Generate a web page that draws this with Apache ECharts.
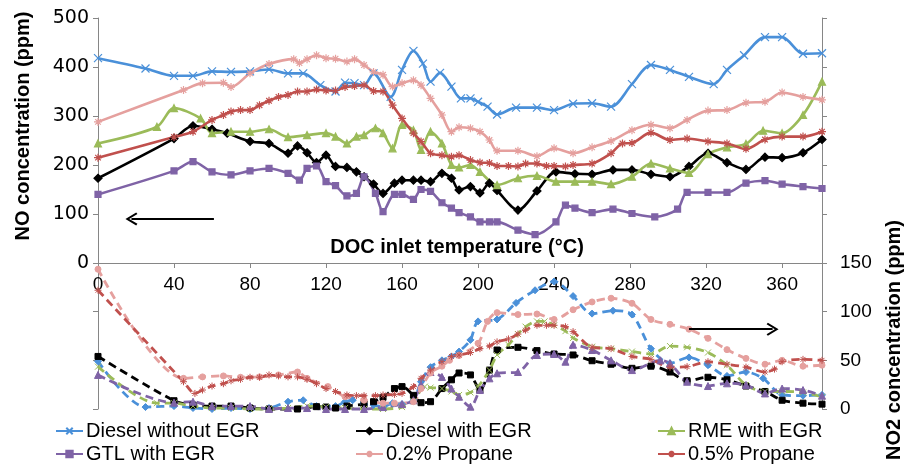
<!DOCTYPE html>
<html>
<head>
<meta charset="utf-8">
<script src="https://cdn.jsdelivr.net/npm/echarts@6/dist/echarts.min.js"></script>
<style>html,body{margin:0;padding:0;background:#fff;}#c{width:904px;height:472px;}</style>
</head>
<body>
<div id="c"></div>
<script>
// ---- Data: [temperature (°C), concentration (ppm)] ----
const seriesNames = ['Diesel without EGR','Diesel with EGR','RME with EGR','GTL with EGR','0.2% Propane','0.5% Propane'];

// NO concentration (left axis)
const noDieselNoEgr = [[0,418],[25,397],[40,382],[50,382],[60,391],[70,390],[80,391],[90,395],[100,387],[108,387],[117,363],[125,350],[130,368],[135,367],[140,363],[145,387],[154,339],[160,394],[166,433],[171,407],[175,370],[180,388],[186,360],[191,336],[196,336],[200,329],[205,319],[210,303],[220,317],[231,317],[240,312],[250,325],[260,326],[270,319],[281,365],[291,404],[301,394],[311,380],[324,365],[331,394],[340,424],[351,461],[360,461],[371,427],[381,428]];
const noDieselEgr = [[0,173],[40,254],[50,280],[60,273],[68,265],[80,248],[90,244],[100,224],[105,239],[110,225],[115,205],[120,220],[125,197],[131,195],[136,186],[140,176],[145,161],[150,142],[156,163],[160,169],[166,169],[170,169],[175,166],[181,183],[186,173],[190,149],[196,156],[201,143],[206,163],[210,148],[221,108],[231,147],[241,186],[251,182],[260,181],[271,190],[281,190],[291,181],[301,176],[311,197],[321,224],[331,205],[341,191],[351,216],[360,215],[371,225],[381,252]];
const noRme = [[0,244],[31,278],[40,316],[54,295],[60,265],[70,268],[80,268],[90,273],[100,257],[110,261],[120,265],[125,258],[131,244],[136,258],[140,261],[146,275],[150,265],[155,234],[160,282],[166,271],[170,231],[175,268],[181,244],[186,200],[190,195],[196,200],[201,186],[210,159],[221,173],[231,178],[241,166],[251,166],[260,166],[270,161],[281,176],[291,203],[301,193],[311,184],[321,222],[331,236],[341,243],[350,270],[360,265],[371,302],[381,370]];
const noGtl = [[0,140],[40,188],[50,207],[60,186],[70,180],[80,188],[90,193],[100,183],[106,169],[110,193],[115,198],[120,166],[125,158],[131,137],[136,142],[140,176],[146,142],[150,105],[156,140],[160,140],[166,130],[170,150],[175,146],[181,123],[186,112],[190,103],[196,94],[201,84],[206,84],[210,84],[221,67],[230,58],[241,84],[246,118],[251,112],[260,103],[271,110],[281,101],[293,94],[305,110],[310,144],[321,144],[331,144],[341,163],[351,168],[360,161],[371,156],[381,152]];
const noProp02 = [[0,288],[45,353],[55,367],[66,368],[70,359],[80,387],[90,406],[103,416],[106,408],[110,416],[115,424],[120,418],[125,417],[131,411],[135,416],[140,404],[145,390],[150,384],[155,360],[160,367],[166,373],[170,363],[175,336],[181,302],[186,268],[190,277],[196,275],[201,268],[206,251],[210,229],[221,229],[231,218],[240,234],[250,224],[260,236],[270,249],[281,271],[291,282],[301,275],[310,292],[321,311],[331,312],[341,327],[351,329],[360,348],[371,339],[381,333]];
const noProp05 = [[0,215],[40,257],[50,268],[60,292],[66,302],[70,309],[75,312],[80,312],[85,322],[90,331],[95,339],[100,343],[105,350],[110,350],[115,354],[120,352],[125,352],[130,359],[135,361],[140,363],[145,351],[150,350],[155,322],[160,295],[166,265],[170,248],[175,224],[181,220],[186,217],[190,220],[196,210],[201,205],[206,204],[210,198],[216,198],[221,197],[225,203],[231,203],[236,198],[240,198],[246,197],[250,200],[260,203],[270,224],[276,244],[281,245],[291,266],[301,251],[310,254],[321,248],[331,244],[341,233],[351,252],[360,258],[371,258],[381,268]];

// NO2 concentration (right axis)
const no2DieselNoEgr = [[0,49],[25,2],[40,3],[50,1],[60,0],[70,1],[80,0],[90,1],[100,7.5],[108,9],[115,3],[125,3],[130,7.5],[134,9],[140,5],[145,4],[150,2],[155,6],[160,5],[166,9],[170,28],[175,43],[181,50],[186,54],[190,59],[196,71],[200,90],[210,92],[220,109],[230,122],[240,131],[250,116],[260,98],[271,101],[281,97],[291,62],[301,47],[311,53],[321,45],[331,34],[341,38],[350,31.5],[360,14.5],[371,13.7],[381,14.5]];
const no2DieselEgr = [[0,54],[40,8.5],[50,4],[60,3],[70,3],[80,1],[90,0],[105,0],[115,2.4],[120,2],[125,1],[131,3],[140,5],[145,7.5],[150,12],[156,21],[160,23],[166,14],[170,6.5],[175,7.5],[181,21],[186,30],[190,37],[196,35],[201,19.5],[206,40],[210,60.6],[221,63.4],[231,60],[240,56.5],[250,55.5],[260,49.6],[270,46],[281,41.8],[291,44],[301,38],[310,29],[321,32.6],[331,30],[341,23.6],[351,18],[360,9],[371,6],[381,5]];
const no2Rme = [[0,43.5],[31,6],[40,6],[50,3],[60,1],[70,1],[80,0],[90,0],[100,1],[110,3],[120,2],[130,1],[140,0],[150,0],[160,2],[166,8],[172,23],[175,22],[181,21],[186,18],[190,14.4],[196,17],[200,23],[206,40],[210,55.5],[216,66],[221,77],[225,84.6],[231,90],[235,90],[240,86],[246,80],[250,73],[260,64],[270,62],[281,59],[291,56.5],[301,64.7],[310,63.4],[321,58],[331,45],[341,24.7],[351,18],[360,18],[371,17],[381,12.6]];
const no2Gtl = [[0,35],[40,6.5],[50,7.5],[60,3],[70,3],[80,3],[90,0],[100,1],[110,1],[120,0],[130,0],[140,0],[150,2],[160,5],[166,9],[170,24.7],[175,38],[181,33],[186,21],[190,12.6],[196,2.4],[201,19.5],[206,31.5],[210,36.7],[221,38],[231,55.5],[240,56.5],[246,48.6],[250,66],[260,60.6],[270,50],[281,40],[296,50],[301,47],[310,28],[321,23.6],[331,26.4],[341,24.7],[351,16],[360,21],[371,19.5],[381,13.7]];
const no2Prop02 = [[0,143.6],[45,31.5],[55,33],[66,34],[75,32.6],[85,33],[95,35],[105,38],[110,31.5],[121,23],[130,12.6],[140,9],[150,6],[156,6],[166,7.5],[170,21],[175,37],[181,44],[185,50],[190,55],[200,67.5],[205,90],[210,99],[221,97],[231,97.6],[240,92],[250,102],[260,110],[270,113.8],[281,108.6],[291,92],[301,87],[311,82],[321,72.6],[331,61],[341,52],[351,46],[360,50],[371,44],[381,45]];
const no2Prop05 = [[0,122],[45,28],[51,16],[55,19.5],[60,23.6],[66,26],[70,29],[75,30.5],[80,32.6],[85,32.6],[90,35],[95,34],[100,33],[105,33],[110,30.5],[115,26],[120,21],[125,18],[131,14.4],[136,13.7],[140,13.7],[146,13.7],[150,14.4],[156,15],[160,16],[166,23],[170,31.5],[175,40],[181,48.6],[186,54],[190,55.5],[196,58],[201,62],[206,64.7],[210,69],[216,72],[221,77],[225,81],[231,86],[236,86],[240,86],[246,84.5],[250,79.5],[260,63.4],[270,62],[281,54],[291,51],[301,43],[310,43.5],[321,48.6],[331,46],[341,43],[351,38],[356,41],[360,48.6],[371,51],[381,50]];

// Axis ticks
const xTicks = {min: 0, max: 381, interval: 40};
const xTickLabels = [0, 40, 80, 120, 160, 200, 240, 280, 320, 360];
const noTicks = {min: 0, max: 500, interval: 100};        // labelled part of NO axis
const noLowerTicks = {min: -300, max: 0, interval: 100};  // unlabelled continuation below
const no2Ticks = {min: 0, max: 150, interval: 50};        // labelled part of NO2 axis
const no2UpperTicks = {min: 150, max: 400, interval: 50}; // unlabelled continuation above

// Arrow annotations (data coordinates)
const noArrow = [[61, 90], [17.6, 90]];
const no2Arrow = [[311, 82], [355, 82]];

// ---- Styles ----
const colors = ['#4A90D9', '#000000', '#9BBB59', '#7F63A6', '#E5A09E', '#C0504D'];
const SYM_X = 'path://M0,0L10,10M10,0L0,10';
const SYM_AST = 'path://M5,0L5,10M0,5L10,5M1.5,1.5L8.5,8.5M8.5,1.5L1.5,8.5';
const CHEVRON = 'path://M5,0L10,8.5L8.8,9.5L5,3L1.2,9.5L0,8.5Z';
const noSymbols = [[SYM_X,8],['diamond',8],['triangle',7],['rect',6],[SYM_AST,8],[SYM_AST,8]];
const no2Symbols = [['diamond',7],['rect',6],[SYM_X,6],['triangle',7],['circle',6],[SYM_AST,7]];
const FONT = "'Liberation Sans', Arial, sans-serif";
const AXIS_GRAY = '#868686';

const noData = [noDieselNoEgr, noDieselEgr, noRme, noGtl, noProp02, noProp05];
const no2Data = [no2DieselNoEgr, no2DieselEgr, no2Rme, no2Gtl, no2Prop02, no2Prop05];

const series = [];
noData.forEach((d, i) => {
  series.push({
    name: seriesNames[i], type: 'line', xAxisIndex: 0, yAxisIndex: 0,
    data: d, smooth: 0.3, showAllSymbol: true, clip: false,
    symbol: noSymbols[i][0], symbolSize: noSymbols[i][1],
    lineStyle: {color: colors[i], width: 2.6},
    itemStyle: {color: colors[i], borderColor: colors[i], borderWidth: 1.2},
    z: 3
  });
});
no2Data.forEach((d, i) => {
  series.push({
    name: seriesNames[i], type: 'line', xAxisIndex: 1, yAxisIndex: 3,
    data: d, smooth: 0.3, showAllSymbol: true, clip: false,
    symbol: no2Symbols[i][0], symbolSize: no2Symbols[i][1],
    lineStyle: {color: colors[i], width: 2.8, type: [8, 5]},
    itemStyle: {color: colors[i], borderColor: colors[i], borderWidth: 1},
    z: 2
  });
});
// arrows as mark lines
const arrowMark = (pts) => ({
  silent: true, symbol: ['none', CHEVRON], symbolSize: [13, 12],
  label: {show: false}, lineStyle: {color: '#000', width: 2, type: 'solid'},
  data: [[{coord: pts[0]}, {coord: pts[1]}]]
});
series[0].markLine = arrowMark(noArrow);
series[6].markLine = arrowMark(no2Arrow);

const legendPos = [[55, 421], [355, 421], [657, 421], [55, 444], [355, 444], [657, 444]];
const legends = seriesNames.map((n, i) => ({
  data: [n], left: legendPos[i][0], top: legendPos[i][1], orient: 'horizontal',
  itemWidth: 27, itemHeight: 8, padding: 0, selectedMode: false,
  textStyle: {fontFamily: FONT, fontSize: 20, color: '#000', padding: [0, 0, 0, -2]}
}));

const axisCommon = {
  axisLine: {show: true, onZero: false, lineStyle: {color: AXIS_GRAY, width: 1}},
  axisTick: {show: true, length: 5, lineStyle: {color: AXIS_GRAY}},
  splitLine: {show: false}
};

const chart = echarts.init(document.getElementById('c'), null, {renderer: 'canvas'});
chart.setOption({
  animation: false,
  backgroundColor: '#fff',
  grid: [
    {left: 98, right: 82, top: 18, height: 245, containLabel: false},
    {left: 98, right: 82, top: 263, bottom: 63, containLabel: false}
  ],
  legend: legends,
  xAxis: [
    Object.assign({
      type: 'value', gridIndex: 0, position: 'bottom',
      min: xTicks.min, max: xTicks.max, interval: xTicks.interval,
      axisLabel: {fontFamily: FONT, fontSize: 19, color: '#000', margin: 12,
        showMaxLabel: false,
        formatter: v => (xTickLabels.indexOf(v) >= 0 ? String(v) : '')}
    }, axisCommon),
    {type: 'value', gridIndex: 1, show: false, min: xTicks.min, max: xTicks.max, interval: xTicks.interval}
  ],
  yAxis: [
    Object.assign({
      type: 'value', gridIndex: 0, position: 'left',
      min: noTicks.min, max: noTicks.max, interval: noTicks.interval,
      axisLabel: {fontFamily: "'DejaVu Sans', sans-serif", fontSize: 19, color: '#000', margin: 9}
    }, axisCommon),
    Object.assign({
      type: 'value', gridIndex: 0, position: 'right',
      min: no2UpperTicks.min, max: no2UpperTicks.max, interval: no2UpperTicks.interval,
      axisLabel: {show: false}
    }, axisCommon),
    Object.assign({
      type: 'value', gridIndex: 1, position: 'left',
      min: noLowerTicks.min, max: noLowerTicks.max, interval: noLowerTicks.interval,
      axisLabel: {show: false}
    }, axisCommon),
    Object.assign({
      type: 'value', gridIndex: 1, position: 'right',
      min: no2Ticks.min, max: no2Ticks.max, interval: no2Ticks.interval,
      axisLabel: {fontFamily: FONT, fontSize: 19, color: '#000', margin: 18}
    }, axisCommon)
  ],
  graphic: [
    {type: 'text', x: 23, y: 126, rotation: Math.PI / 2,
      style: {text: 'NO concentration (ppm)', fontFamily: FONT, fontWeight: 'bold', fontSize: 20,
        fill: '#000', align: 'center', verticalAlign: 'middle'}},
    {type: 'text', x: 457, y: 247,
      style: {text: 'DOC inlet temperature (°C)', fontFamily: FONT, fontWeight: 'bold', fontSize: 20,
        fill: '#000', align: 'center', verticalAlign: 'middle'}},
    {type: 'text', x: 894, y: 340, rotation: Math.PI / 2,
      style: {text: 'NO2 concentration (ppm)', fontFamily: FONT, fontWeight: 'bold', fontSize: 20,
        fill: '#000', align: 'center', verticalAlign: 'middle'}}
  ],
  series: series
});
</script>
</body>
</html>
